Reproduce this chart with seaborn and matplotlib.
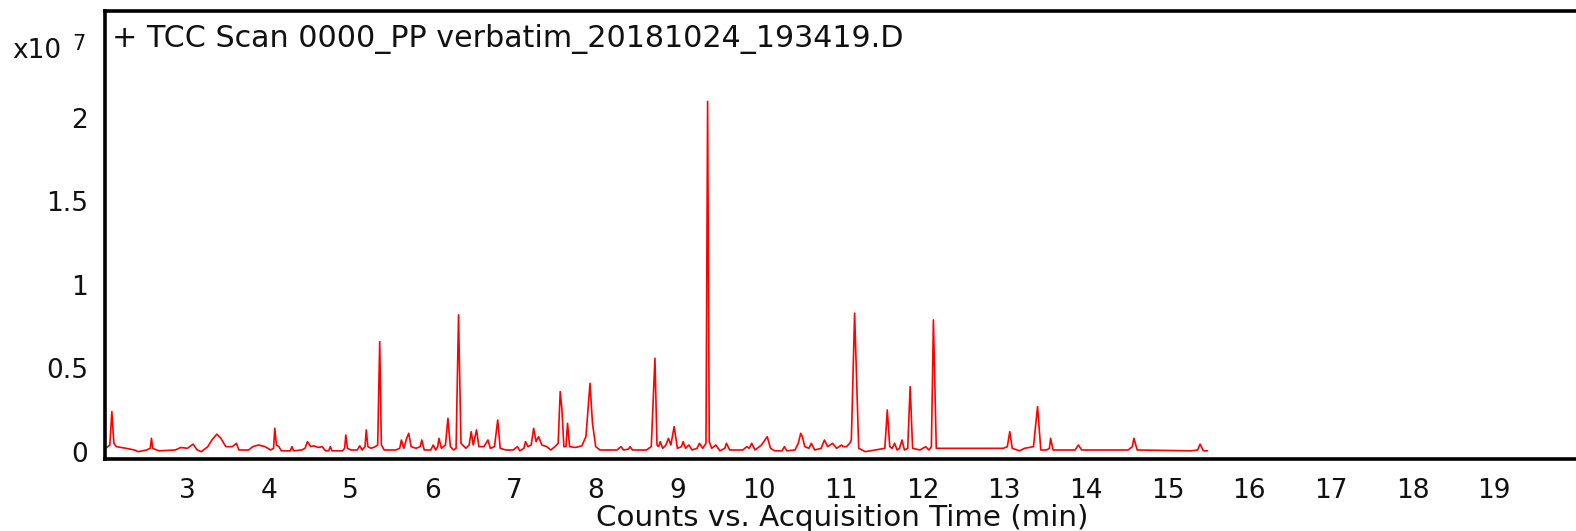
import numpy as np
import pandas as pd
import matplotlib
matplotlib.use("Agg")
import matplotlib.pyplot as plt
import seaborn as sns

# ---- data (retention time in min, abundance in units of 1e7 counts) ----
time_min = [
    2.00, 2.05, 2.075, 2.10, 2.13, 2.25, 2.35, 2.40, 2.50, 2.545, 2.56, 2.575, 2.65,
    2.85, 2.92, 3.00, 3.07, 3.12, 3.17, 3.25, 3.30, 3.36, 3.41, 3.47, 3.55, 3.60, 3.63,
    3.75, 3.80, 3.87, 3.95, 4.02, 4.055, 4.07, 4.09, 4.12, 4.15,
    4.20, 4.26, 4.28, 4.30, 4.40, 4.44, 4.47, 4.51, 4.55, 4.60, 4.65, 4.69, 4.73, 4.75,
    4.77, 4.90, 4.925, 4.94, 4.96, 5.00, 5.08, 5.11, 5.14, 5.175, 5.19, 5.21, 5.25, 5.30,
    5.33, 5.355, 5.375, 5.41, 5.55, 5.60, 5.62, 5.65, 5.685, 5.71, 5.74, 5.80, 5.85, 5.87,
    5.90, 5.98, 6.01, 6.04, 6.065, 6.08, 6.11, 6.16, 6.19, 6.22, 6.26, 6.29, 6.32, 6.35,
    6.41, 6.45, 6.475, 6.50, 6.54, 6.57, 6.63, 6.68, 6.71, 6.76, 6.80, 6.83, 6.90, 6.99,
    7.04, 7.07, 7.12, 7.14, 7.17, 7.21, 7.24, 7.27, 7.30, 7.34, 7.40, 7.45, 7.50, 7.54,
    7.565, 7.585, 7.61, 7.635, 7.655, 7.68, 7.75, 7.83, 7.88, 7.93, 7.96, 8.00, 8.05,
    8.26, 8.31, 8.34, 8.40, 8.42, 8.45, 8.62, 8.68, 8.725, 8.75, 8.77, 8.79, 8.82, 8.86,
    8.89, 8.92, 8.96, 9.00, 9.05, 9.07, 9.10, 9.14, 9.18, 9.24, 9.27, 9.31, 9.35, 9.37,
    9.39, 9.42, 9.47, 9.52, 9.58, 9.60, 9.64, 9.80, 9.85, 9.88, 9.91, 9.95, 10.03, 10.10,
    10.14, 10.19, 10.28, 10.31, 10.34, 10.44, 10.48, 10.51, 10.53, 10.56, 10.61, 10.64,
    10.68, 10.76, 10.80, 10.84, 10.90, 10.95, 11.01, 11.03, 11.07, 11.11, 11.13, 11.17,
    11.22, 11.30, 11.54, 11.57, 11.60, 11.63, 11.66, 11.69, 11.72, 11.75, 11.78, 11.82,
    11.85, 11.88, 11.97, 12.04, 12.08, 12.11, 12.135, 12.17, 12.34, 12.99, 13.04, 13.07,
    13.10, 13.19, 13.25, 13.36, 13.41, 13.45, 13.52, 13.555, 13.57, 13.60, 13.87, 13.91,
    13.95, 14.52, 14.57, 14.59, 14.63, 15.29, 15.37, 15.40, 15.44, 15.49,
]
counts_e7 = [
    0.02, 0.04, 0.24, 0.05, 0.03, 0.02, 0.01, 0.00, 0.01, 0.02, 0.08, 0.02, 0.005,
    0.01, 0.025, 0.02, 0.045, 0.01, 0.00, 0.03, 0.07, 0.105, 0.08, 0.03, 0.03, 0.05, 0.01,
    0.01, 0.03, 0.04, 0.03, 0.01, 0.02, 0.14, 0.04, 0.03, 0.005,
    0.005, 0.005, 0.03, 0.005, 0.01, 0.02, 0.06, 0.03, 0.035, 0.025, 0.03, 0.005, 0.005, 0.03,
    0.005, 0.005, 0.02, 0.10, 0.02, 0.01, 0.01, 0.035, 0.01, 0.03, 0.13, 0.03, 0.02, 0.03,
    0.04, 0.66, 0.04, 0.01, 0.01, 0.02, 0.07, 0.02, 0.08, 0.11, 0.03, 0.02, 0.03, 0.07,
    0.01, 0.01, 0.04, 0.01, 0.03, 0.08, 0.02, 0.04, 0.20, 0.03, 0.01, 0.02, 0.82, 0.05,
    0.02, 0.04, 0.12, 0.04, 0.13, 0.03, 0.03, 0.07, 0.02, 0.03, 0.19, 0.02, 0.01, 0.01,
    0.03, 0.005, 0.02, 0.06, 0.03, 0.04, 0.14, 0.06, 0.09, 0.04, 0.03, 0.01, 0.03, 0.05,
    0.36, 0.26, 0.03, 0.03, 0.17, 0.03, 0.025, 0.035, 0.09, 0.41, 0.17, 0.03, 0.01,
    0.01, 0.03, 0.01, 0.015, 0.03, 0.01, 0.01, 0.03, 0.56, 0.04, 0.03, 0.06, 0.02, 0.04,
    0.08, 0.04, 0.15, 0.02, 0.03, 0.06, 0.02, 0.04, 0.01, 0.02, 0.05, 0.02, 0.05, 2.10,
    0.06, 0.02, 0.04, 0.005, 0.02, 0.05, 0.01, 0.01, 0.03, 0.02, 0.05, 0.01, 0.04, 0.09,
    0.02, 0.005, 0.005, 0.03, 0.005, 0.01, 0.05, 0.11, 0.09, 0.03, 0.02, 0.05,
    0.01, 0.02, 0.07, 0.03, 0.05, 0.02, 0.04, 0.03, 0.03, 0.05, 0.07, 0.83,
    0.02, 0.00, 0.02, 0.25, 0.03, 0.02, 0.05, 0.01, 0.02, 0.07, 0.01, 0.02,
    0.39, 0.02, 0.01, 0.03, 0.01, 0.03, 0.79, 0.02, 0.02, 0.02, 0.03, 0.12,
    0.02, 0.005, 0.02, 0.03, 0.27, 0.01, 0.01, 0.02, 0.08, 0.01, 0.01, 0.04,
    0.01, 0.01, 0.03, 0.08, 0.01, 0.005, 0.01, 0.045, 0.005, 0.005,
]
x_ticks = list(range(2, 20))
x_tick_labels = [""] + [str(v) for v in range(3, 20)]
y_ticks = [0, 0.5, 1, 1.5, 2]
y_tick_labels = ["0", "0.5", "1", "1.5", "2"]
title_text = "+ TCC Scan 0000_PP verbatim_20181024_193419.D"
x_label = "Counts vs. Acquisition Time (min)"
multiplier_base = "x10"
multiplier_exp = "7"

sns.set_style("white")
plt.rcParams["font.family"] = ["DejaVu Sans"]

fig = plt.figure(figsize=(15.76, 5.31), dpi=100)
ax = fig.add_axes([104.5 / 1576, 1 - 459 / 531, (1579 - 104.5) / 1576, (459 - 11) / 531])

df = pd.DataFrame({"time": time_min, "counts": counts_e7})
sns.lineplot(data=df, x="time", y="counts", ax=ax, color="#ff0000",
             linewidth=1.2, estimator=None, sort=False, legend=False)

ax.set_xlim(1.985, 20.04)
ax.set_ylim(-0.044, 2.642)
ax.set_xticks(x_ticks)
ax.set_xticklabels(x_tick_labels)
ax.set_yticks(y_ticks)
ax.set_yticklabels(y_tick_labels)
ax.tick_params(axis="x", direction="out", length=8, width=1.3, color="#333333",
               labelsize=19, pad=6, labelcolor="#111111")
ax.tick_params(axis="y", direction="out", length=7, width=1.2, color="#333333",
               labelsize=19, pad=5, labelcolor="#111111")
ax.set_xlabel(x_label, fontsize=21.2, color="#111111", labelpad=0)
ax.set_ylabel("")
for s in ax.spines.values():
    s.set_color("black")
    s.set_linewidth(2.6)
    s.set_visible(True)

fig.text(112 / 1576, 1 - 47 / 531, title_text, fontsize=21.7, color="#111111",
         ha="left", va="baseline")
fig.text(12 / 1576, 1 - 58 / 531, multiplier_base, fontsize=19, color="#111111",
         ha="left", va="baseline")
fig.text(72 / 1576, 1 - 50 / 531, multiplier_exp, fontsize=15, color="#111111",
         ha="left", va="baseline")

fig.savefig("out.png", dpi=100, facecolor="white")
